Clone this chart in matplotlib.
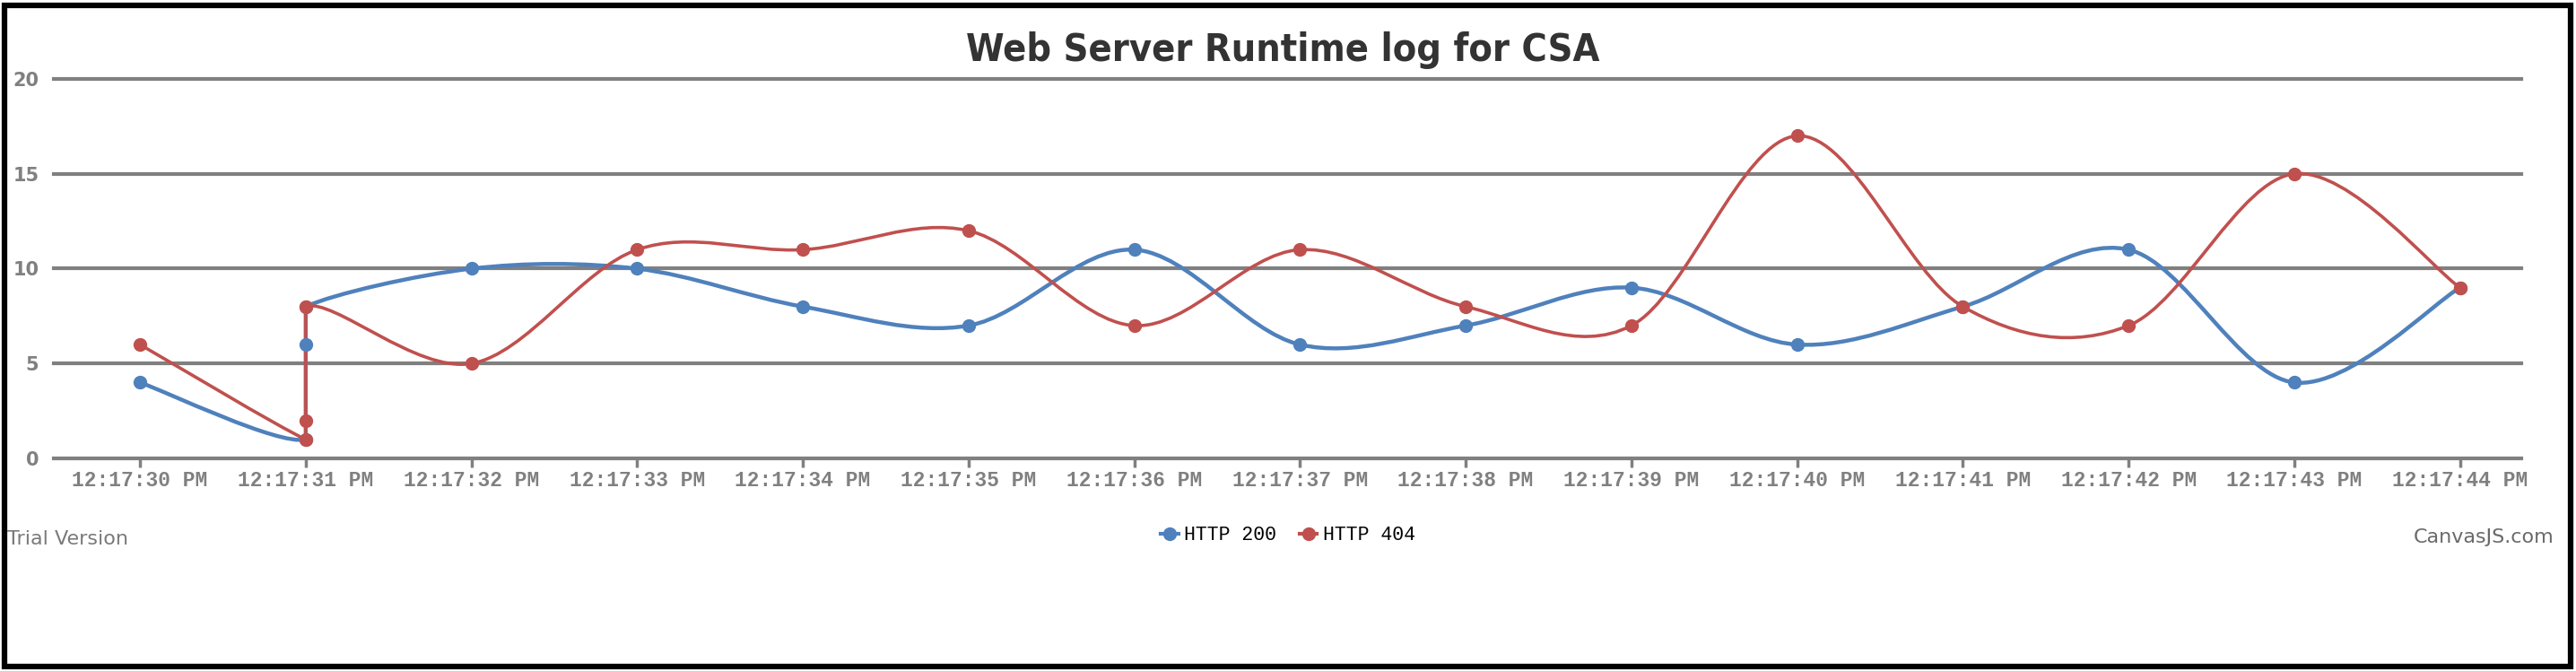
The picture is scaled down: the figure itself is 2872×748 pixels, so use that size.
#!/usr/bin/env python3
"""
Web server runtime log chart (HTTP 200 vs HTTP 404), CanvasJS look.
"""
import numpy as np
import matplotlib
matplotlib.use('Agg')
import matplotlib.pyplot as plt
from matplotlib import font_manager
from matplotlib.path import Path
from matplotlib.patches import PathPatch, Rectangle
from matplotlib.lines import Line2D

# seconds after 12:17:00 PM
http200_x = [30, 31, 31, 31, 32, 33, 34, 35, 36, 37, 38, 39, 40, 41, 42, 43, 44]
http200_y = [4, 1, 6, 8, 10, 10, 8, 7, 11, 6, 7, 9, 6, 8, 11, 4, 9]
http404_x = [30, 31, 31, 31, 32, 33, 34, 35, 36, 37, 38, 39, 40, 41, 42, 43, 44]
http404_y = [6, 1, 2, 8, 5, 11, 11, 12, 7, 11, 8, 7, 17, 8, 7, 15, 9]

tick_secs = list(range(30, 45))
tick_labels = [f'12:17:{s} PM' for s in tick_secs]
y_ticks = [0, 5, 10, 15, 20]

BLUE = '#4F81BC'
RED = '#C0504E'
GRID = '#808080'

W, H = 2872, 748


def spline_path(xs, ys):
    """cardinal spline through the points; same-x steps drawn straight"""
    pts = np.column_stack([xs, ys]).astype(float)
    n = len(pts)
    verts = [pts[0]]
    codes = [Path.MOVETO]
    for i in range(n - 1):
        p1 = pts[i]
        p2 = pts[i + 1]
        if p1[0] == p2[0]:
            verts.append(p2)
            codes.append(Path.LINETO)
            continue
        p0 = pts[i - 1] if i > 0 else p1
        p3 = pts[i + 2] if i + 2 < n else p2
        verts += [p1 + (p2 - p0) / 6, p2 - (p3 - p1) / 6, p2]
        codes += [Path.CURVE4] * 3
    return Path(verts, codes)


def main():
    fig = plt.figure(figsize=(W / 100, H / 100), dpi=100)
    # axes box in pixels: left 60, right 2811, top (y=20) 88, bottom (y=0) 511
    left, right, top, bottom = 60, 2811, 88, 511
    ax = fig.add_axes([left / W, 1 - bottom / H, (right - left) / W,
                       (bottom - top) / H])
    ax.set_xlim(29.48, 44.37)
    ax.set_ylim(0, 20)

    for sp in ax.spines.values():
        sp.set_visible(False)

    # horizontal grid (0 line doubles as the axis line)
    for yv in y_ticks:
        ax.axhline(yv, color=GRID, lw=3, zorder=1, clip_on=False)

    ax.set_yticks(y_ticks)
    ax.set_yticklabels([str(v) for v in y_ticks], fontsize=15,
                       fontweight='bold', color=GRID, family='DejaVu Sans')
    ax.tick_params(axis='y', length=0, pad=12)

    ax.set_xticks(tick_secs)
    ax.set_xticklabels(tick_labels, fontsize=16.5, fontweight='bold',
                       color=GRID, family='Liberation Mono')
    ax.tick_params(axis='x', length=7, width=2.5, color=GRID, pad=2)

    for xs, ys, col, lw in [(http200_x, http200_y, BLUE, 3.2),
                            (http404_x, http404_y, RED, 2.6)]:
        ax.add_patch(PathPatch(spline_path(xs, ys), fill=False,
                               edgecolor=col, lw=lw, zorder=3,
                               capstyle='round', joinstyle='round'))
        ax.plot(xs, ys, linestyle='none', marker='o', markersize=10,
                color=col, zorder=4, clip_on=False)

    # narrowest heavy face available for the Impact-like title
    names = {f.name for f in font_manager.fontManager.ttflist}
    title_family = 'DejaVu Sans'
    for cand in ['Liberation Sans Narrow', 'DejaVu Sans Condensed']:
        if cand in names:
            title_family = cand
            break
    fig.text(1430 / W, 1 - 56 / H, 'Web Server Runtime log for CSA',
             ha='center', va='center', fontsize=31, fontweight='heavy',
             color='#333333', family=title_family,
             fontstretch='condensed')

    handles = [Line2D([], [], color=BLUE, lw=3, marker='o', markersize=10),
               Line2D([], [], color=RED, lw=3, marker='o', markersize=10)]
    fig.legend(handles, ['HTTP 200', 'HTTP 404'], loc='center',
               bbox_to_anchor=(1436 / W, 1 - 597 / H), ncol=2, frameon=False,
               handlelength=0.9, handletextpad=0.3, columnspacing=1.2,
               prop={'family': 'Liberation Mono', 'size': 15.5})

    fig.text(8 / W, 1 - 601 / H, 'Trial Version', ha='left', va='center',
             fontsize=16, color='#7a7a7a', family='DejaVu Sans')
    fig.text(2848 / W, 1 - 599 / H, 'CanvasJS.com', ha='right', va='center',
             fontsize=16, color='#6a6a6a', family='DejaVu Sans')

    # black frame round the whole canvas
    fig.patches.append(Rectangle((5 / W, 5 / H), 1 - 11 / W, 1 - 11 / H,
                                 transform=fig.transFigure, fill=False,
                                 edgecolor='black', lw=4.5))

    fig.savefig('out.png', dpi=100, facecolor='white')


if __name__ == '__main__':
    main()
